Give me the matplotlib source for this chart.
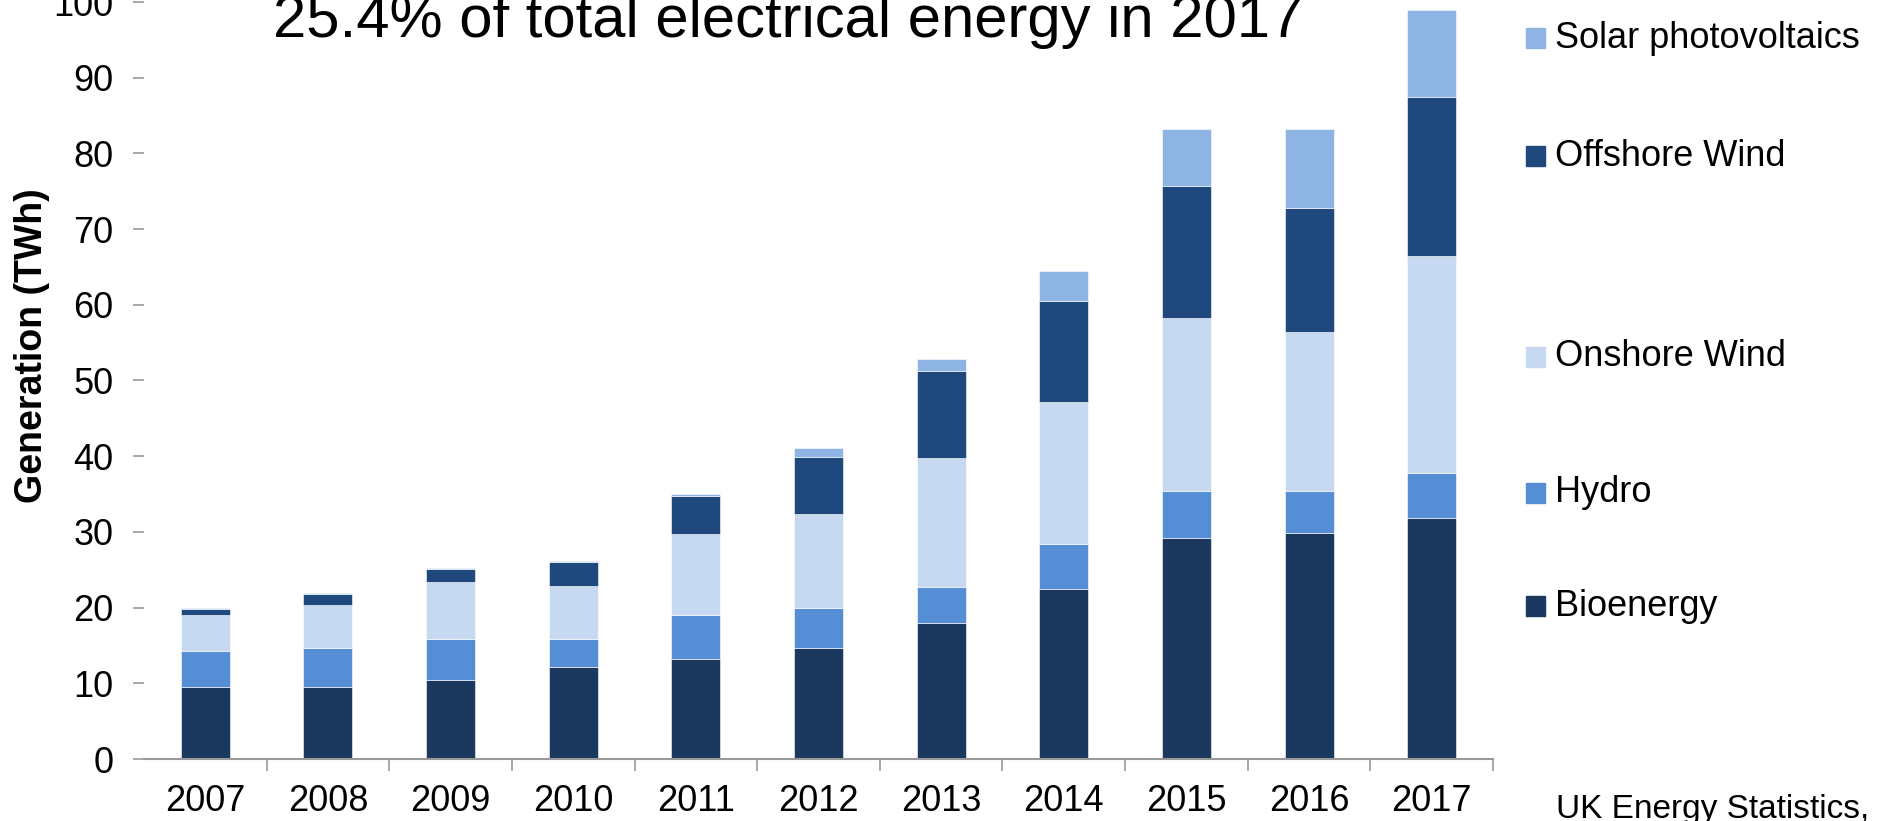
import numpy as np
import matplotlib
matplotlib.use("Agg")
import matplotlib.pyplot as plt
from matplotlib.patches import Rectangle

years = ["2007", "2008", "2009", "2010", "2011", "2012", "2013", "2014", "2015", "2016", "2017"]

# TWh by technology (stacked bottom to top)
bioenergy = [9.5, 9.5, 10.5, 12.2, 13.2, 14.6, 18.0, 22.5, 29.2, 29.9, 31.9]
hydro = [4.8, 5.1, 5.3, 3.6, 5.8, 5.3, 4.7, 5.9, 6.2, 5.5, 5.9]
onshore = [4.7, 5.7, 7.6, 7.1, 10.7, 12.4, 17.0, 18.8, 22.9, 21.0, 28.7]
offshore = [0.8, 1.5, 1.7, 3.1, 5.1, 7.6, 11.5, 13.3, 17.4, 16.4, 20.9]
solar = [0.1, 0.1, 0.1, 0.1, 0.2, 1.2, 1.7, 4.0, 7.5, 10.4, 11.5]

series = [
    ("Bioenergy", bioenergy, "#1b385e"),
    ("Hydro", hydro, "#558ed5"),
    ("Onshore Wind", onshore, "#c6d9f1"),
    ("Offshore Wind", offshore, "#1f497d"),
    ("Solar photovoltaics", solar, "#8eb4e3"),
]

plt.rcParams["font.family"] = ["Liberation Sans", "DejaVu Sans"]

W, H = 1880, 821
fig = plt.figure(figsize=(W / 100, H / 100), dpi=100)
ax = fig.add_axes([144 / W, 62 / H, 1349 / W, 757 / H])

x = np.arange(len(years))
bottom = np.zeros(len(years))
for name, vals, col in series:
    ax.bar(x, vals, width=0.4, bottom=bottom, color=col,
           edgecolor="white", linewidth=0.4, label=name)
    bottom += np.array(vals)

ax.set_xlim(-0.5, len(years) - 0.5)
ax.set_ylim(0, 100)
ax.set_yticks(np.arange(0, 101, 10))
ax.tick_params(axis="y", direction="out", length=8, width=1.2, color="#999999",
               labelsize=26, pad=14)
ax.set_xticks(x)
ax.set_xticklabels(years)
ax.set_xticks(np.arange(0.5, len(years), 1.0), minor=True)
ax.tick_params(axis="x", which="major", length=0, labelsize=26, pad=18)
ax.tick_params(axis="x", which="minor", direction="out", length=8.6, width=1.2, color="#999999")

for s in ["top", "right", "left"]:
    ax.spines[s].set_visible(False)
ax.spines["bottom"].set_color("#999999")
ax.spines["bottom"].set_linewidth(1.5)

fig.text(32 / W, 1 - 346 / H, "Generation (TWh)", fontsize=27, fontweight="bold",
         rotation=90, ha="center", va="center")

fig.text(273 / W, 1 - 37 / H, "25.4% of total electrical energy in 2017", fontsize=43,
         va="baseline")

# legend placed beside the segments of the last bar
legend_y = {"Solar photovoltaics": 38, "Offshore Wind": 156, "Onshore Wind": 357,
            "Hydro": 493, "Bioenergy": 606}
for name, vals, col in series:
    yc = legend_y[name]
    fig.patches.append(Rectangle((1526 / W, 1 - (yc + 10) / H), 19 / W, 20 / H,
                                 transform=fig.transFigure, color=col))
    fig.text(1555 / W, 1 - yc / H, name, fontsize=26, va="center")

fig.text(1556 / W, 1 - 818 / H, "UK Energy Statistics,", fontsize=24, va="baseline")

fig.savefig("out.png", dpi=100)
